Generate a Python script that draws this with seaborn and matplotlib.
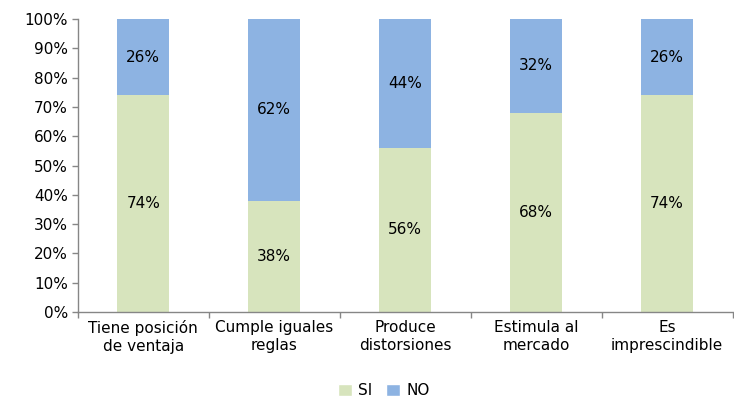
import matplotlib
matplotlib.use("Agg")
import matplotlib.pyplot as plt
import seaborn as sns
import pandas as pd
from matplotlib.patches import Patch
from matplotlib.ticker import FixedLocator, PercentFormatter

# data
categories = ["Tiene posición\nde ventaja", "Cumple iguales\nreglas", "Produce\ndistorsiones",
              "Estimula al\nmercado", "Es\nimprescindible"]
si_values = [74, 38, 56, 68, 74]
no_values = [26, 62, 44, 32, 26]

green = "#D7E4BD"
blue = "#8DB3E2"

sns.set_theme(style="white")
plt.rcParams['font.family'] = ['DejaVu Sans']
plt.rcParams['text.color'] = 'black'
plt.rcParams['xtick.color'] = 'black'
plt.rcParams['ytick.color'] = 'black'

df = pd.DataFrame({"cat": categories, "SI": si_values, "NO": no_values})
df["total"] = df["SI"] + df["NO"]

fig = plt.figure(figsize=(7.34, 4.0), dpi=100)
ax = fig.add_axes([0.106, 0.22, 0.892, 0.7325])

# stacked: full bar in blue, SI part on top in green
sns.barplot(data=df, x="cat", y="total", color=blue, width=0.4, saturation=1, linewidth=0, ax=ax)
sns.barplot(data=df, x="cat", y="SI", color=green, width=0.4, saturation=1, linewidth=0, ax=ax)

for i, row in df.iterrows():
    ax.text(i, row["SI"] / 2, f"{row['SI']}%", ha="center", va="center", fontsize=11, color="black")
    ax.text(i, row["SI"] + row["NO"] / 2, f"{row['NO']}%", ha="center", va="center", fontsize=11, color="black")

ax.set_ylim(0, 100)
ax.set_xlim(-0.5, len(categories) - 0.5)
ax.yaxis.set_major_locator(FixedLocator(range(0, 101, 10)))
ax.yaxis.set_major_formatter(PercentFormatter(decimals=0))
ax.set_xlabel("")
ax.set_ylabel("")
ax.tick_params(axis="y", length=4, width=1, color="#868686", labelcolor="black", labelsize=11, direction="out", left=True, pad=3)
ax.tick_params(axis="x", which="major", length=0, labelcolor="black", labelsize=11, pad=6)
ax.set_xticks([i - 0.5 for i in range(len(categories) + 1)], minor=True)
ax.tick_params(axis="x", which="minor", length=4, width=1, color="#868686", direction="out", bottom=True)

for s in ["top", "right"]:
    ax.spines[s].set_visible(False)
for s in ["left", "bottom"]:
    ax.spines[s].set_color("#868686")
    ax.spines[s].set_linewidth(1)

handles = [Patch(facecolor=green, label="SI"), Patch(facecolor=blue, label="NO")]
fig.legend(handles=handles, loc="lower center", bbox_to_anchor=(0.523, -0.03), ncol=2, frameon=False,
           fontsize=11, handlelength=0.9, handleheight=0.9, handletextpad=0.4, columnspacing=0.9)

fig.savefig("out.png", dpi=100)
